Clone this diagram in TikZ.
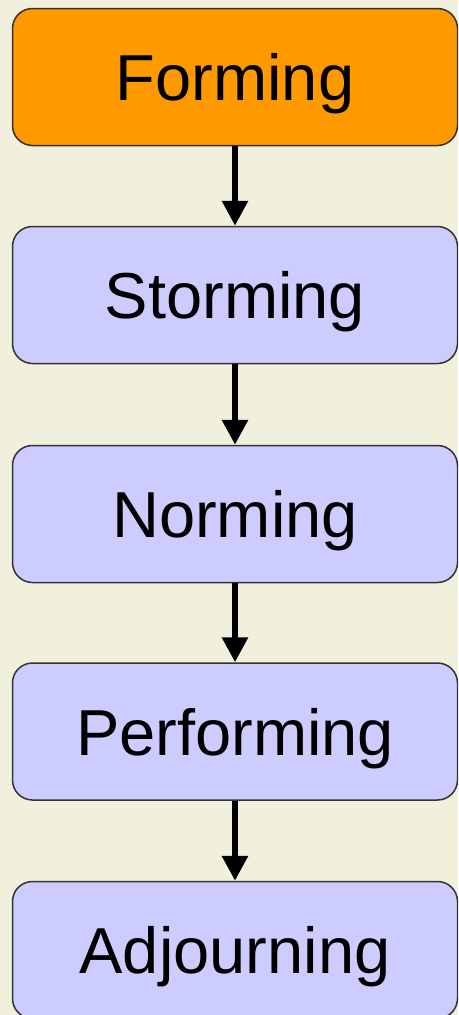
\documentclass[tikz,border=0pt]{standalone}
\usepackage{fontspec}
\setmainfont{Liberation Sans}
\usetikzlibrary{arrows.meta}
\definecolor{bgc}{HTML}{F1F0DD}
\definecolor{orangec}{HTML}{FF9900}
\definecolor{lavc}{HTML}{CCCCFF}
\definecolor{edgec}{HTML}{333333}
\tikzset{
  stagebox/.style={draw=edgec, line width=1.5pt, rounded corners=20pt,
    minimum width=445pt, minimum height=137pt, inner sep=0pt,
    text depth=0pt, font=\fontsize{65}{78}\selectfont, text=black},
  flowarrow/.style={line width=6pt, -{Triangle[width=25pt,length=25pt]}, black}
}
\begin{document}
\begin{tikzpicture}[x=1pt,y=-1pt]
\useasboundingbox (0,0) rectangle (458,1015);
\clip (0,0) rectangle (458,1015);
\fill[bgc] (0,0) rectangle (458,1015);
\node[stagebox, fill=orangec] (b1) at (235,77) {Forming};
\node[stagebox, fill=lavc] (b2) at (235,295) {Storming};
\node[stagebox, fill=lavc] (b3) at (235,514) {Norming};
\node[stagebox, fill=lavc] (b4) at (235,731.5) {Performing};
\node[stagebox, fill=lavc] (b5) at (235,950) {Adjourning};
\draw[flowarrow] (b1.south) -- (b2.north);
\draw[flowarrow] (b2.south) -- (b3.north);
\draw[flowarrow] (b3.south) -- (b4.north);
\draw[flowarrow] (b4.south) -- (b5.north);
\end{tikzpicture}
\end{document}
